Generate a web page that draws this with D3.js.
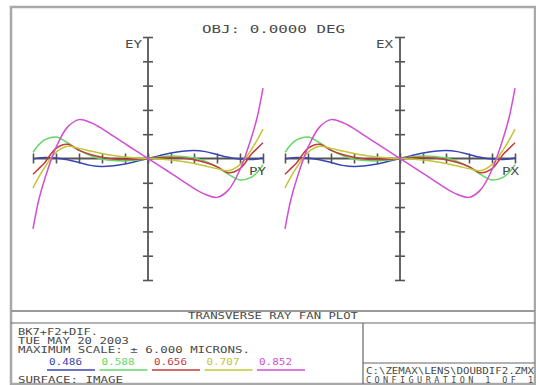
<!DOCTYPE html>
<html>
<head>
<meta charset="utf-8">
<script src="https://cdn.jsdelivr.net/npm/d3@7"></script>
<style>
  html, body { margin: 0; padding: 0; background: #fff; }
  svg { display: block; }
  text { font-family: "DejaVu Sans Mono", "Liberation Mono", monospace; fill: #4a4a4a; }
</style>
</head>
<body>
<svg id="chart" width="536" height="385"></svg>
<script>
// Normalised pupil coordinate for each sampled ray
const pupil = [-1, -0.95, -0.9, -0.8, -0.7, -0.6, -0.5, -0.4, -0.3, -0.2, -0.1, 0,
               0.1, 0.2, 0.3, 0.4, 0.5, 0.6, 0.7, 0.8, 0.9, 0.95, 1];

// Transverse ray error (microns) per wavelength
const err486 = [-0.02, 0.03, 0.05, 0.03, -0.06, -0.20, -0.34, -0.40, -0.36, -0.27, -0.14, 0,
                0.14, 0.27, 0.36, 0.40, 0.34, 0.20, 0.06, -0.03, -0.05, -0.03, 0.02];
const err588 = [0.30, 0.68, 0.92, 1.06, 0.78, 0.42, 0.15, -0.02, -0.10, -0.12, -0.08, 0,
                0.08, 0.12, 0.10, 0.02, -0.15, -0.42, -0.78, -1.06, -0.92, -0.68, -0.30];
const err656 = [-0.78, -0.50, -0.22, 0.50, 0.70, 0.40, 0.20, 0.06, -0.02, -0.05, -0.04, 0,
                0.04, 0.05, 0.02, -0.06, -0.20, -0.40, -0.70, -0.50, 0.22, 0.50, 0.78];
const err707 = [-1.45, -0.92, -0.45, 0.30, 0.60, 0.50, 0.37, 0.25, 0.15, 0.08, 0.03, 0,
                -0.03, -0.08, -0.15, -0.25, -0.37, -0.50, -0.60, -0.30, 0.45, 0.92, 1.45];
const err852 = [-3.47, -2.05, -1.05, 0.55, 1.55, 1.92, 1.78, 1.48, 1.10, 0.73, 0.36, 0,
                -0.36, -0.73, -1.10, -1.48, -1.78, -1.92, -1.55, -0.55, 1.05, 2.05, 3.47];

const wavelengths = ["0.486", "0.588", "0.656", "0.707", "0.852"];
const colors = ["#3a44b4", "#62d862", "#c43c3c", "#c4c43a", "#d24ed2"];
const seriesTangential = [err486, err588, err656, err707, err852];
const seriesSagittal = [err486, err588, err656, err707, err852];

const maxScale = 6;          // microns, full axis half-height
const yTickValues = d3.range(-5, 6).map(d => d * maxScale / 5);
const xTickValues = d3.range(-5, 6).map(d => d / 5);

const svg = d3.select("#chart");
const ink = "#4a4a4a";

// Frame and title-block rules
svg.append("rect").attr("x", 11).attr("y", 7).attr("width", 524).attr("height", 377)
  .attr("fill", "none").attr("stroke", "#a8a8a8").attr("stroke-width", 2.5);
svg.append("line").attr("x1", 11).attr("x2", 535).attr("y1", 311).attr("y2", 311)
  .attr("stroke", "#9a9a9a").attr("stroke-width", 2);
svg.append("line").attr("x1", 11).attr("x2", 535).attr("y1", 323).attr("y2", 323)
  .attr("stroke", "#666").attr("stroke-width", 1.2);
svg.append("line").attr("x1", 363).attr("x2", 363).attr("y1", 323).attr("y2", 384)
  .attr("stroke", "#666").attr("stroke-width", 1.2);
svg.append("line").attr("x1", 363).attr("x2", 535).attr("y1", 363).attr("y2", 363)
  .attr("stroke", "#666").attr("stroke-width", 1.2);

function label(txt, x, y, size, len, adjust) {
  const t = svg.append("text").attr("x", x).attr("y", y)
    .attr("font-size", size).text(txt);
  if (len) t.attr("textLength", len).attr("lengthAdjust", adjust || "spacingAndGlyphs");
  return t;
}

label("OBJ: 0.0000 DEG", 202, 33, 11, 143);

// One ray-fan panel
function fanPanel(cx, series, yName, xName, yLabelX, xLabelX) {
  const x = d3.scaleLinear().domain([-1, 1]).range([cx - 115, cx + 115]);
  const y = d3.scaleLinear().domain([-maxScale, maxScale]).range([280, 37]);
  const g = svg.append("g");

  // axis lines
  g.append("line").attr("x1", x(-1)).attr("x2", x(1)).attr("y1", y(0)).attr("y2", y(0))
    .attr("stroke", "#555").attr("stroke-width", 1.8);
  g.append("line").attr("x1", x(0)).attr("x2", x(0)).attr("y1", y(-maxScale)).attr("y2", y(maxScale))
    .attr("stroke", "#555").attr("stroke-width", 1.8);

  // ticks crossing each axis
  const yAxis = d3.axisLeft(y).tickValues(yTickValues).tickSize(10).tickFormat("");
  g.append("g").attr("transform", `translate(${x(0) + 5},0)`).call(yAxis)
    .call(s => s.select(".domain").remove())
    .selectAll("line").attr("stroke", "#555").attr("stroke-width", 1.6);
  const xAxis = d3.axisBottom(x).tickValues(xTickValues).tickSize(10).tickFormat("");
  g.append("g").attr("transform", `translate(0,${y(0) - 5})`).call(xAxis)
    .call(s => s.select(".domain").remove())
    .selectAll("line").attr("stroke", "#555").attr("stroke-width", 1.6);

  const line = d3.line()
    .x((d, i) => x(pupil[i]))
    .y(d => y(d))
    .curve(d3.curveCatmullRom.alpha(0.5));

  series.forEach((vals, k) => {
    g.append("path").datum(vals).attr("d", line)
      .attr("fill", "none").attr("stroke", colors[k]).attr("stroke-width", 1.5);
  });

  label(yName, yLabelX, 48, 10, 17);
  label(xName, xLabelX, 175, 10, 17);
}

fanPanel(148, seriesTangential, "EY", "PY", 125, 249);
fanPanel(400, seriesSagittal, "EX", "PX", 376, 502);

// Title block text
label("TRANSVERSE RAY FAN PLOT", 188, 319, 8.5, 170);
label("BK7+F2+DIF.", 18, 335, 8.5, 80);
label("TUE MAY 20 2003", 18, 344, 8.5, 111);
label("MAXIMUM SCALE: \u00B1 6.000 MICRONS.", 18, 353, 8.5, 232);
label("SURFACE: IMAGE", 18, 383, 8.5, 105);
label("C:\\ZEMAX\\LENS\\DOUBDIF2.ZMX", 366, 374, 8.5, 168);
label("CONFIGURATION 1 OF 1", 366, 383, 8.5, 167, "spacing");

// Wavelength legend with coloured rules beneath
const legendX = d3.scalePoint().domain(wavelengths).range([47, 257]);
wavelengths.forEach((w, k) => {
  const x0 = legendX(w);
  svg.append("text").attr("x", x0 + 2).attr("y", 365).attr("font-size", 8.5)
    .attr("textLength", 33).attr("lengthAdjust", "spacingAndGlyphs")
    .style("fill", colors[k]).text(w);
  svg.append("line").attr("x1", x0).attr("x2", x0 + 48).attr("y1", 370).attr("y2", 370)
    .attr("stroke", colors[k]).attr("stroke-width", 1.5);
});
</script>
</body>
</html>
